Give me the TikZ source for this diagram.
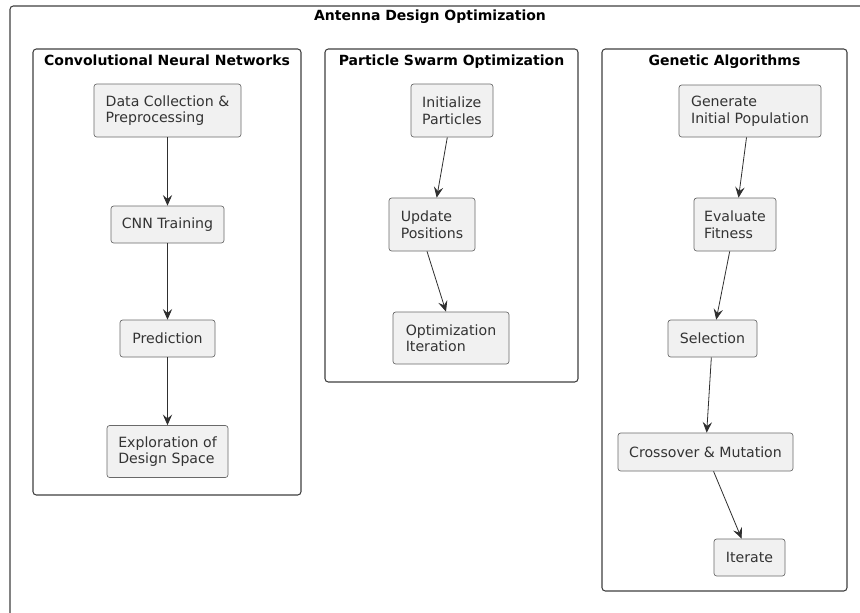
\documentclass[tikz,border=0pt]{standalone}
\usepackage{fontspec}
\setmainfont{DejaVu Sans}
\usetikzlibrary{arrows.meta,positioning}
\definecolor{nodefill}{HTML}{F1F1F1}
\definecolor{nodeline}{HTML}{181818}
\begin{document}
\begin{tikzpicture}[x=0.75pt,y=-0.75pt,
  box/.style={draw=nodeline!65,line width=0.5pt,fill=nodefill,rounded corners=2pt,
    inner sep=0pt,align=left,font=\fontsize{10.6}{12.4}\selectfont,text=black!80},
  grp/.style={draw=black!75,line width=0.8pt,rounded corners=2.5pt,inner sep=0pt},
  grptitle/.style={font=\fontsize{10.5}{12}\selectfont\bfseries,inner sep=0pt,anchor=north},
  arr/.style={draw=nodeline!90,line width=0.6pt,-{Stealth[length=8pt,width=7pt,inset=3pt]}}]
\useasboundingbox (0,0) rectangle (860,612);
\clip (0,0) rectangle (860,612);
\fill[white] (0,0) rectangle (860,612);
% outer frame
\draw[black!75,line width=0.8pt,rounded corners=2.5pt] (10,6) rectangle (1000,800);
\node[grptitle] (title) at (430,10) {Antenna Design Optimization};
% groups
\node[grp,minimum width=201pt,minimum height=334.5pt] (gcnn) at (167,272) {};
\node[grptitle] (tcnn) at ([yshift=-4.5pt]gcnn.north) {Convolutional Neural Networks};
\node[grp,minimum width=189.75pt,minimum height=249.75pt] (gpso) at (451.5,215.5) {};
\node[grptitle] (tpso) at ([yshift=-4.5pt]gpso.north) {Particle Swarm Optimization};
\node[grp,minimum width=183.75pt,minimum height=406.5pt] (gga) at (724.5,320) {};
\node[grptitle] (tga) at ([yshift=-4.5pt]gga.north) {Genetic Algorithms};
% CNN
\node[box,minimum width=110.25pt,minimum height=39.75pt] (d1) at (167.5,110.5) {Data Collection \&\\Preprocessing};
\node[box,minimum width=84.75pt,minimum height=27.75pt] (d2) at (167.5,224.5) {CNN Training};
\node[box,minimum width=71.25pt,minimum height=27.75pt] (d3) at (167.5,338.5) {Prediction};
\node[box,minimum width=90.75pt,minimum height=39pt] (d4) at (167.5,451.5) {Exploration of\\Design Space};
\draw[arr] (d1) -- (d2);
\draw[arr] (d2) -- (d3);
\draw[arr] (d3) -- (d4);
% PSO
\node[box,minimum width=61.5pt,minimum height=39.75pt] (p1) at (452,110.5) {Initialize\\Particles};
\node[box,minimum width=64.5pt,minimum height=39.75pt] (p2) at (432,224.5) {Update\\Positions};
\node[box,minimum width=87pt,minimum height=39pt] (p3) at (451,338) {Optimization\\Iteration};
\draw[arr] (p1) -- (p2);
\draw[arr] ([xshift=-3.75pt]p2.south) -- ([xshift=-3.75pt]p3.north);
% GA
\node[box,minimum width=106.5pt,minimum height=39pt] (g1) at (750,111) {Generate\\Initial Population};
\node[box,minimum width=61.5pt,minimum height=39.75pt] (g2) at (735,224.5) {Evaluate\\Fitness};
\node[box,minimum width=66.75pt,minimum height=27.75pt] (g3) at (712.5,338.5) {Selection};
\node[box,minimum width=131.25pt,minimum height=28.5pt] (g4) at (705.5,452) {Crossover \& Mutation};
\node[box,minimum width=53.25pt,minimum height=27.75pt] (g5) at (749.5,557.5) {Iterate};
\draw[arr] (g1) -- (g2);
\draw[arr] (g2) -- (g3);
\draw[arr] (g3) -- (g4);
\draw[arr] (g4) -- (g5);
\end{tikzpicture}
\end{document}
